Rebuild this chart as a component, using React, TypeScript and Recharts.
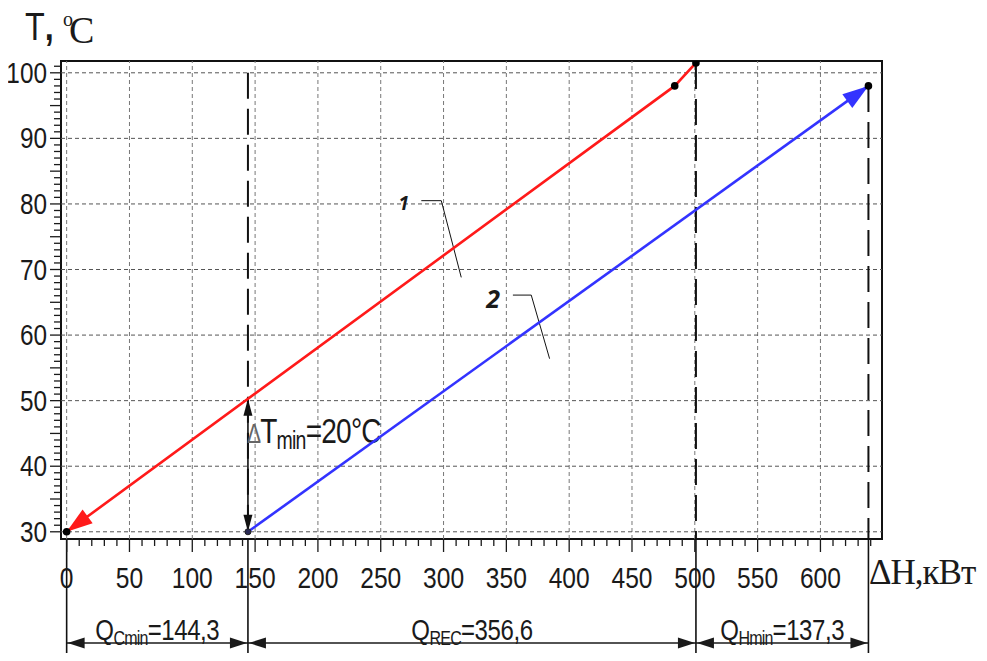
import React from 'react';
import { LineChart, Line, XAxis, YAxis, ReferenceLine, ReferenceArea, ReferenceDot } from 'recharts';

// hot stream (1) and cold stream (2), ΔH in kW, T in °C
const hotDH = [0, 484, 500.9];
const hotT = [30, 98, 101.5];
const coldDH = [144.3, 638.2];
const coldT = [30, 98];

// ticks
const xMajor = [0, 50, 100, 150, 200, 250, 300, 350, 400, 450, 500, 550, 600];
const xTicks = Array.from({ length: 65 }, (_, i) => i * 10);
const yMajor = [30, 40, 50, 60, 70, 80, 90, 100];
const yTicks = Array.from({ length: 72 }, (_, i) => 30 + i);

// pinch boundaries and segment labels
const bounds = [0, 144.3, 500.9, 638.2];
const boundTops = [null, 100, 101.5, 98];
const spanNames = ['Cmin', 'REC', 'Hmin'];
const spanValues = ['144,3', '356,6', '137,3'];
const dTminAt = 144.3;
const dTminRange = [30, 50.3];

// leader lines for curve numbers
const leader1 = [{ h: 282.3, t: 80.5 }, { h: 298.2, t: 80.5 }, { h: 314.1, t: 68.8 }];
const leader2 = [{ h: 355.2, t: 66.1 }, { h: 369.8, t: 66.1 }, { h: 384.4, t: 56.4 }];

const hot = hotDH.map((h, i) => ({ h, t: hotT[i] }));
const cold = coldDH.map((h, i) => ({ h, t: coldT[i] }));

const SANS = 'Liberation Sans, Arial, sans-serif';
const SERIF = 'Liberation Serif, Times New Roman, serif';
const INK = '#1a1a1a';

function arrowHead(tx: number, ty: number, fx: number, fy: number, color: string, len = 24, half = 8) {
  const dx = tx - fx;
  const dy = ty - fy;
  const d = Math.hypot(dx, dy) || 1;
  const ux = dx / d, uy = dy / d;
  const bx = tx - ux * len, by = ty - uy * len;
  const nx = -uy * half, ny = ux * half;
  return (
    <polygon
      points={`${tx},${ty} ${bx + nx},${by + ny} ${bx - nx},${by - ny}`}
      fill={color}
      stroke="none"
    />
  );
}

const XTick = (props: any) => {
  const { x, y, payload } = props;
  const v = payload.value;
  const major = xMajor.includes(v);
  return (
    <g>
      <line x1={x} x2={x} y1={y} y2={y + (major ? 13 : 7)} stroke={INK} strokeWidth={1.3} />
      {major && (
        <text
          transform={`translate(${x},${y + 49}) scale(0.82,1)`}
          textAnchor="middle"
          fontSize={30}
          fontFamily={SANS}
          fill={INK}
        >
          {v}
        </text>
      )}
    </g>
  );
};

const YTick = (props: any) => {
  const { x, y, payload } = props;
  const v = payload.value;
  const major = yMajor.includes(v);
  const len = major || v % 5 === 0 ? 11 : 7;
  return (
    <g>
      <line x1={x - len} x2={x} y1={y} y2={y} stroke={INK} strokeWidth={1.3} />
      {major && (
        <text
          transform={`translate(${x - 14},${y + 10}) scale(0.84,1)`}
          textAnchor="end"
          fontSize={29}
          fontFamily={SANS}
          fill={INK}
        >
          {v}
        </text>
      )}
    </g>
  );
};

const hotDot = (p: any) => {
  const { cx, cy, index, points } = p;
  if (index === 0) {
    const nxt = points && points[1] ? points[1] : { x: cx + 100, y: cy - 80 };
    return (
      <g key={`hd${index}`}>
        {arrowHead(cx, cy, nxt.x, nxt.y, '#ff1a1a', 26, 8.5)}
        <circle cx={cx} cy={cy} r={3.8} fill="#000" />
      </g>
    );
  }
  return <circle key={`hd${index}`} cx={cx} cy={cy} r={3.8} fill="#000" />;
};

const coldDot = (p: any) => {
  const { cx, cy, index, points } = p;
  if (index === 1) {
    const prv = points && points[0] ? points[0] : { x: cx - 100, y: cy + 80 };
    return (
      <g key={`cd${index}`}>
        {arrowHead(cx, cy, prv.x, prv.y, '#3333ff', 26, 8.5)}
        <circle cx={cx} cy={cy} r={3.8} fill="#000" />
      </g>
    );
  }
  return <circle key={`cd${index}`} cx={cx} cy={cy} r={3} fill="#2a2a55" stroke="#222" strokeWidth={1} />;
};

const BoundShape = (p: any) => {
  const { x1, y1, x2, y2, dashed } = p;
  const top = Math.min(y1, y2);
  const bottom = Math.max(y1, y2);
  return (
    <g>
      {dashed && (
        <line x1={x1} x2={x2} y1={top} y2={bottom} stroke="#111" strokeWidth={2} strokeDasharray="26 10" />
      )}
      <line x1={x1} x2={x2} y1={bottom} y2={bottom + 125} stroke="#111" strokeWidth={1.6} />
    </g>
  );
};

const SpanShape = (p: any) => {
  const { x, y, width, height, name, value } = p;
  const ay = y + height + 104;
  const cx = x + width / 2;
  return (
    <g>
      <line x1={x} x2={x + width} y1={ay} y2={ay} stroke={INK} strokeWidth={1.3} />
      {arrowHead(x + 1, ay, x + 20, ay, INK, 17, 5.5)}
      {arrowHead(x + width - 1, ay, x + width - 20, ay, INK, 17, 5.5)}
      <g transform={`translate(${cx},${ay - 3}) scale(0.8,1)`}>
        <text textAnchor="middle" fontSize={30} fontFamily={SANS} fill={INK} letterSpacing={-0.5}>
          Q
          <tspan fontSize={20} dy={5} letterSpacing={-1}>{name}</tspan>
          <tspan dy={-5}>={value}</tspan>
        </text>
      </g>
    </g>
  );
};

const DTShape = (p: any) => {
  const { x1, y1, y2 } = p;
  const top = Math.min(y1, y2);
  const bottom = Math.max(y1, y2);
  return (
    <g>
      <line x1={x1} x2={x1} y1={top + 4} y2={bottom - 4} stroke="#111" strokeWidth={1.6} />
      {arrowHead(x1, top, x1, top + 20, '#111', 17, 4.5)}
      {arrowHead(x1, bottom, x1, bottom - 20, '#111', 17, 4.5)}
      <g transform={`translate(${x1 - 1},${top + 44}) scale(0.78,1)`}>
        <text fontSize={36} fontFamily={SANS} fill={INK} letterSpacing={-1}>
          <tspan fontSize={27} fill="#666">Δ</tspan>
          T
          <tspan fontSize={25} dy={6}>min</tspan>
          <tspan dy={-6}>=20°C</tspan>
        </text>
      </g>
    </g>
  );
};

const NumLabel = (txt: string, size: number) => (p: any) => (
  <text
    x={p.cx}
    y={p.cy + size * 0.36}
    textAnchor="middle"
    fontSize={size}
    fontStyle="italic"
    fontWeight={700}
    fontFamily="Noto Sans, Open Sans, sans-serif"
    fill={INK}
  >
    {txt}
  </text>
);

const YTitle = () => (
  <g>
    <text transform="translate(17,32) scale(0.85,1)" fontSize={38} fontFamily={SANS} fill={INK}>
      T<tspan fontWeight={700}>,</tspan>
    </text>
    <text x={55} y={18} fontSize={20} fontFamily={SERIF} fill={INK}>o</text>
    <text x={61} y={35} fontSize={38} fontFamily={SERIF} fill={INK}>C</text>
  </g>
);

const XTitle = () => (
  <text x={861} y={576} fontSize={35} fontFamily={SERIF} fill={INK} letterSpacing={-1}>
    ΔH,кВт
  </text>
);

export default function App() {
  return (
    <LineChart
      width={971}
      height={645}
      margin={{ top: 53, right: 97, bottom: 0, left: 0 }}
      style={{ background: '#fff' }}
    >
      <XAxis
        type="number"
        dataKey="h"
        domain={[-4.5, 649]}
        allowDataOverflow
        ticks={xTicks}
        interval={0}
        height={114}
        tickSize={0}
        tickMargin={0}
        tickLine={false}
        axisLine={false}
        tick={XTick}
        label={{ content: XTitle }}
      />
      <YAxis
        type="number"
        dataKey="t"
        domain={[28.9, 101.8]}
        allowDataOverflow
        ticks={yTicks}
        interval={0}
        width={53}
        tickSize={0}
        tickMargin={0}
        tickLine={false}
        axisLine={false}
        tick={YTick}
        label={{ content: YTitle }}
      />

      {xMajor.map((v) => (
        <ReferenceLine key={`gx${v}`} x={v} stroke="#777" strokeDasharray="4 3" strokeWidth={1} />
      ))}
      {yMajor.map((v) => (
        <ReferenceLine key={`gy${v}`} y={v} stroke="#555" strokeDasharray="4 3" strokeWidth={1} />
      ))}

      <ReferenceArea
        x1={-4.5}
        x2={649}
        y1={28.9}
        y2={101.8}
        ifOverflow="visible"
        fill="none"
        fillOpacity={0}
        stroke="#111"
        strokeWidth={2}
      />

      {bounds.map((b, i) => (
        <ReferenceLine
          key={`b${i}`}
          ifOverflow="visible"
          segment={[
            { x: b, y: boundTops[i] ?? 28.9 },
            { x: b, y: 28.9 },
          ]}
          shape={(p: any) => <BoundShape {...p} dashed={boundTops[i] != null} />}
        />
      ))}

      {spanNames.map((n, i) => (
        <ReferenceArea
          key={`s${i}`}
          x1={bounds[i]}
          x2={bounds[i + 1]}
          ifOverflow="visible"
          shape={(p: any) => <SpanShape {...p} name={n} value={spanValues[i]} />}
        />
      ))}

      <ReferenceLine
        ifOverflow="visible"
        segment={[
          { x: dTminAt, y: dTminRange[0] },
          { x: dTminAt, y: dTminRange[1] },
        ]}
        shape={DTShape}
      />

      <Line data={leader1} dataKey="t" stroke="#111" strokeWidth={1} dot={false} isAnimationActive={false} />
      <Line data={leader2} dataKey="t" stroke="#111" strokeWidth={1} dot={false} isAnimationActive={false} />
      <ReferenceDot x={268.3} y={80.1} r={0} shape={NumLabel('1', 19)} />
      <ReferenceDot x={339.4} y={65.5} r={0} shape={NumLabel('2', 25)} />

      <Line
        data={hot}
        dataKey="t"
        type="linear"
        stroke="#ff1a1a"
        strokeWidth={2.6}
        dot={hotDot}
        isAnimationActive={false}
      />
      <Line
        data={cold}
        dataKey="t"
        type="linear"
        stroke="#3333ff"
        strokeWidth={2.6}
        dot={coldDot}
        isAnimationActive={false}
      />
    </LineChart>
  );
}
